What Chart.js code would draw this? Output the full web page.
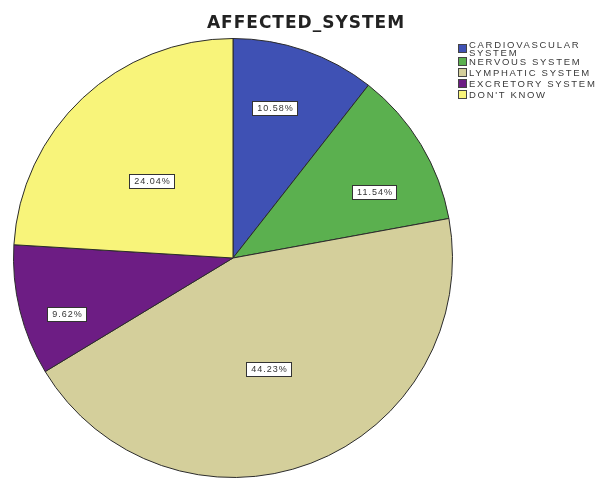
<!DOCTYPE html>
<html>
<head>
<meta charset="utf-8">
<script src="https://cdn.jsdelivr.net/npm/chart.js@4/dist/chart.umd.min.js"></script>
<style>
  body { margin: 0; background: #fff; }
  #wrap { position: relative; width: 604px; height: 479px; }
  #title { position: absolute; left: 0; top: 12px; width: 612px; text-align: center; font-family: "DejaVu Sans", sans-serif; font-weight: bold; font-size: 17px; letter-spacing: 1px; color: #222; }
  #legend { position: absolute; left: 458px; top: 41px; font-family: "Liberation Sans", Arial, sans-serif; font-size: 9.5px; color: #3a3a3a; letter-spacing: 1.7px; }
  .item { display: flex; align-items: center; height: 11px; white-space: nowrap; }
  .item.two { height: 15px; line-height: 7.5px; }
  .box { width: 7px; height: 7px; border: 1px solid #444; margin-right: 2px; flex: none; }
</style>
</head>
<body>
<div id="wrap">
  <canvas id="pie"></canvas>
  <div id="title">AFFECTED_SYSTEM</div>
  <div id="legend"></div>
</div>
<script>
const labels = ['CARDIOVASCULAR SYSTEM', 'NERVOUS SYSTEM', 'LYMPHATIC SYSTEM', 'EXCRETORY SYSTEM', "DON'T KNOW"]
const values = [10.58, 11.54, 44.23, 9.62, 24.04]
const colors = ['#3f51b4', '#5bb04f', '#d4cf9b', '#6d1d84', '#f8f47a']

const percentBoxes = {
  id: 'percentBoxes',
  afterDatasetsDraw(chart, args, opts) {
    const ctx = chart.ctx
    const arcs = chart.getDatasetMeta(0).data
    ctx.save()
    ctx.font = '9px "Liberation Sans", Arial, sans-serif'
    ctx.letterSpacing = '1px'
    ctx.textAlign = 'center'
    ctx.textBaseline = 'middle'
    arcs.forEach((arc, i) => {
      const { x, y, startAngle, endAngle, outerRadius } = arc.getProps(['x', 'y', 'startAngle', 'endAngle', 'outerRadius'], true)
      // [share of the slice's sweep, share of the radius]
      const [along, out] = opts.spots[i]
      const a = startAngle + (endAngle - startAngle) * along
      const px = x + Math.cos(a) * outerRadius * out
      const py = y + Math.sin(a) * outerRadius * out
      const text = values[i].toFixed(2) + '%'
      const w = Math.round(ctx.measureText(text).width + 8)
      const h = 14
      const bx = Math.round(px - w / 2) + 0.5
      const by = Math.round(py - h / 2) + 0.5
      ctx.fillStyle = '#fff'
      ctx.fillRect(bx, by, w, h)
      ctx.strokeStyle = '#333'
      ctx.lineWidth = 1
      ctx.strokeRect(bx, by, w, h)
      ctx.fillStyle = '#333'
      ctx.fillText(text, bx + w / 2 + 0.5, by + h / 2 + 0.5)
    })
    ctx.restore()
  },
}

new Chart(document.querySelector('#pie'), {
  type: 'pie',
  data: {
    labels,
    datasets: [{
      data: values,
      backgroundColor: colors,
      borderColor: '#2b2b2b',
      borderWidth: 1,
    }],
  },
  options: {
    responsive: true,
    maintainAspectRatio: false,
    animation: false,
    layout: { padding: { left: 13, right: 151, top: 38, bottom: 1 } },
    plugins: {
      legend: { display: false },
      tooltip: { enabled: false },
      percentBoxes: {
        spots: [[0.41, 0.71], [0.65, 0.71], [0.52, 0.53], [0.36, 0.8], [0.46, 0.51]],
      },
    },
  },
  plugins: [percentBoxes],
})

const legend = document.querySelector('#legend')
labels.forEach((label, i) => {
  const item = document.createElement('div')
  item.className = i === 0 ? 'item two' : 'item'
  const box = document.createElement('span')
  box.className = 'box'
  box.style.background = colors[i]
  const text = document.createElement('span')
  text.innerHTML = i === 0 ? 'CARDIOVASCULAR<br>SYSTEM' : label
  item.append(box, text)
  legend.append(item)
})
</script>
</body>
</html>
